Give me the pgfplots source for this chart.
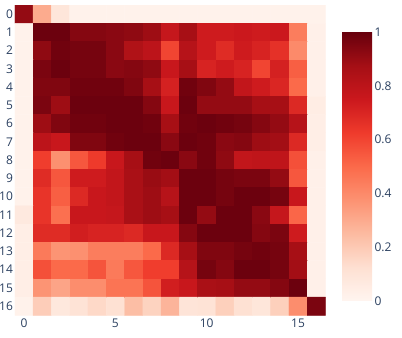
\documentclass[border=0pt]{standalone}
\usepackage{fontspec}
\setmainfont{Open Sans}
\usepackage{pgfplots}
\pgfplotsset{compat=1.18}
\definecolor{labcol}{RGB}{42,63,95}
\pgfplotsset{colormap={reds}{rgb255(0)=(255,245,240) rgb255(1)=(254,224,210)
  rgb255(2)=(252,187,161) rgb255(3)=(252,146,114) rgb255(4)=(251,106,74)
  rgb255(5)=(239,59,44) rgb255(6)=(203,24,29) rgb255(7)=(165,15,21)
  rgb255(8)=(103,0,13)}}
\begin{document}
\begin{tikzpicture}
\path[use as bounding box] (0,0) rectangle (402bp,338bp);
\begin{axis}[
    at={(14.9bp,22.7bp)}, anchor=south west,
    scale only axis, width=310.6bp, height=310.3bp,
    colormap name=reds,
    point meta min=0, point meta max=1,
    xmin=-0.5, xmax=16.5, ymin=-0.5, ymax=16.5,
    y dir=reverse,
    enlargelimits=false,
    xtick={0,5,10,15},
    ytick={0,1,...,16},
    axis line style={draw=none},
    major tick length=0pt,
    /pgf/number format/assume math mode=true,
    tick label style={font=\fontsize{12bp}{14bp}\selectfont, text=labcol},
    yticklabel style={xshift=1.5bp},
    colorbar,
    colorbar/width=30bp,
    colorbar style={
        scale only axis,
        width=30bp, height=269bp,
        xmin=0, xmax=1, enlargelimits=false,
        at={(parent axis.north east)}, anchor=north west,
        xshift=8bp, yshift=-27bp,
        axis line style={draw=none},
        major tick length=0pt,
        ytick={0,0.2,0.4,0.6,0.8,1},
        yticklabel pos=right,
        /pgf/number format/assume math mode=true,
        yticklabel style={font=\fontsize{12bp}{14bp}\selectfont, text=labcol, xshift=-1bp},
    },
]
\addplot[matrix plot*, mesh/cols=17, point meta=explicit] coordinates {
(0,0)[0.91] (1,0)[0.30] (2,0)[0.09] (3,0)[0.02] (4,0)[0.02] (5,0)[0.02] (6,0)[0.02] (7,0)[0.02] (8,0)[0.02] (9,0)[0.02] (10,0)[0.02] (11,0)[0.02] (12,0)[0.02] (13,0)[0.02] (14,0)[0.02] (15,0)[0.02] (16,0)[0.02]
(0,1)[0.02] (1,1)[0.99] (2,1)[0.99] (3,1)[0.94] (4,1)[0.94] (5,1)[0.93] (6,1)[0.92] (7,1)[0.89] (8,1)[0.77] (9,1)[0.87] (10,1)[0.74] (11,1)[0.74] (12,1)[0.75] (13,1)[0.74] (14,1)[0.75] (15,1)[0.44] (16,1)[0.03]
(0,2)[0.02] (1,2)[0.92] (2,2)[0.98] (3,2)[0.97] (4,2)[0.97] (5,2)[0.93] (6,2)[0.84] (7,2)[0.80] (8,2)[0.60] (9,2)[0.82] (10,2)[0.74] (11,2)[0.68] (12,2)[0.74] (13,2)[0.71] (14,2)[0.66] (15,2)[0.40] (16,2)[0.03]
(0,3)[0.02] (1,3)[0.96] (2,3)[0.99] (3,3)[0.97] (4,3)[0.97] (5,3)[0.93] (6,3)[0.94] (7,3)[0.92] (8,3)[0.76] (9,3)[0.87] (10,3)[0.71] (11,3)[0.74] (12,3)[0.71] (13,3)[0.60] (14,3)[0.72] (15,3)[0.53] (16,3)[0.03]
(0,4)[0.02] (1,4)[0.95] (2,4)[0.95] (3,4)[0.98] (4,4)[0.98] (5,4)[0.98] (6,4)[0.95] (7,4)[0.87] (8,4)[0.72] (9,4)[0.98] (10,4)[0.95] (11,4)[0.91] (12,4)[0.78] (13,4)[0.74] (14,4)[0.70] (15,4)[0.50] (16,4)[0.03]
(0,5)[0.02] (1,5)[0.96] (2,5)[0.89] (3,5)[0.99] (4,5)[0.99] (5,5)[0.99] (6,5)[0.99] (7,5)[0.94] (8,5)[0.76] (9,5)[0.99] (10,5)[0.91] (11,5)[0.91] (12,5)[0.91] (13,5)[0.87] (14,5)[0.87] (15,5)[0.69] (16,5)[0.05]
(0,6)[0.02] (1,6)[0.89] (2,6)[0.95] (3,6)[0.98] (4,6)[0.98] (5,6)[0.99] (6,6)[0.99] (7,6)[0.98] (8,6)[0.87] (9,6)[0.98] (10,6)[0.99] (11,6)[0.98] (12,6)[0.97] (13,6)[0.94] (14,6)[0.91] (15,6)[0.82] (16,6)[0.04]
(0,7)[0.02] (1,7)[0.80] (2,7)[0.76] (3,7)[0.95] (4,7)[0.95] (5,7)[0.98] (6,7)[0.99] (7,7)[0.99] (8,7)[0.93] (9,7)[0.99] (10,7)[0.98] (11,7)[0.93] (12,7)[0.94] (13,7)[0.89] (14,7)[0.88] (15,7)[0.69] (16,7)[0.04]
(0,8)[0.02] (1,8)[0.62] (2,8)[0.38] (3,8)[0.55] (4,8)[0.63] (5,8)[0.76] (6,8)[0.87] (7,8)[0.98] (8,8)[0.99] (9,8)[0.93] (10,8)[0.98] (11,8)[0.92] (12,8)[0.78] (13,8)[0.79] (14,8)[0.79] (15,8)[0.57] (16,8)[0.03]
(0,9)[0.02] (1,9)[0.68] (2,9)[0.55] (3,9)[0.74] (4,9)[0.74] (5,9)[0.78] (6,9)[0.86] (7,9)[0.90] (8,9)[0.88] (9,9)[0.99] (10,9)[0.99] (11,9)[0.97] (12,9)[0.96] (13,9)[0.96] (14,9)[0.91] (15,9)[0.55] (16,9)[0.03]
(0,10)[0.02] (1,10)[0.65] (2,10)[0.53] (3,10)[0.69] (4,10)[0.76] (5,10)[0.78] (6,10)[0.86] (7,10)[0.89] (8,10)[0.82] (9,10)[0.99] (10,10)[0.99] (11,10)[0.97] (12,10)[0.99] (13,10)[0.99] (14,10)[0.97] (15,10)[0.76] (16,10)[0.03]
(0,11)[0.07] (1,11)[0.65] (2,11)[0.48] (3,11)[0.76] (4,11)[0.76] (5,11)[0.77] (6,11)[0.86] (7,11)[0.89] (8,11)[0.87] (9,11)[0.99] (10,11)[0.91] (11,11)[0.99] (12,11)[0.99] (13,11)[0.93] (14,11)[0.77] (15,11)[0.51] (16,11)[0.03]
(0,12)[0.04] (1,12)[0.68] (2,12)[0.68] (3,12)[0.73] (4,12)[0.71] (5,12)[0.71] (6,12)[0.69] (7,12)[0.76] (8,12)[0.76] (9,12)[0.94] (10,12)[0.99] (11,12)[0.99] (12,12)[0.99] (13,12)[0.94] (14,12)[0.96] (15,12)[0.74] (16,12)[0.03]
(0,13)[0.04] (1,13)[0.45] (2,13)[0.37] (3,13)[0.38] (4,13)[0.44] (5,13)[0.44] (6,13)[0.44] (7,13)[0.50] (8,13)[0.69] (9,13)[0.87] (10,13)[0.95] (11,13)[0.95] (12,13)[0.97] (13,13)[0.98] (14,13)[0.97] (15,13)[0.87] (16,13)[0.03]
(0,14)[0.04] (1,14)[0.57] (2,14)[0.50] (3,14)[0.50] (4,14)[0.56] (5,14)[0.45] (6,14)[0.55] (7,14)[0.62] (8,14)[0.62] (9,14)[0.82] (10,14)[0.97] (11,14)[0.94] (12,14)[0.99] (13,14)[0.99] (14,14)[0.97] (15,14)[0.88] (16,14)[0.03]
(0,15)[0.04] (1,15)[0.37] (2,15)[0.32] (3,15)[0.39] (4,15)[0.39] (5,15)[0.47] (6,15)[0.47] (7,15)[0.56] (8,15)[0.73] (9,15)[0.76] (10,15)[0.86] (11,15)[0.87] (12,15)[0.91] (13,15)[0.91] (14,15)[0.94] (15,15)[0.99] (16,15)[0.03]
(0,16)[0.02] (1,16)[0.19] (2,16)[0.08] (3,16)[0.11] (4,16)[0.15] (5,16)[0.12] (6,16)[0.24] (7,16)[0.17] (8,16)[0.27] (9,16)[0.10] (10,16)[0.11] (11,16)[0.18] (12,16)[0.12] (13,16)[0.09] (14,16)[0.18] (15,16)[0.39] (16,16)[0.96]
};
\end{axis}
\end{tikzpicture}
\end{document}
